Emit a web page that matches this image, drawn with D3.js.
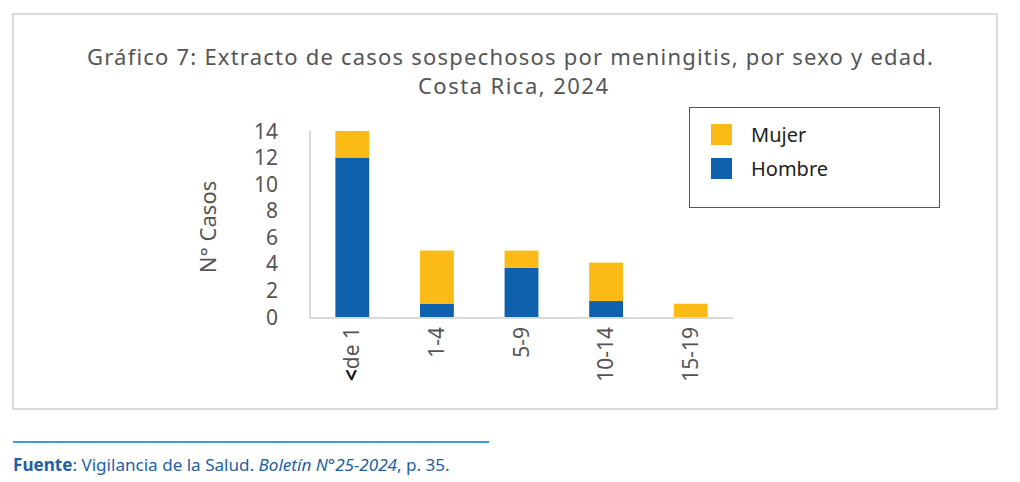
<!DOCTYPE html>
<html>
<head>
<meta charset="utf-8">
<script src="https://cdn.jsdelivr.net/npm/d3@7"></script>
<style>
  html, body { margin: 0; padding: 0; background: #fff; }
  svg { display: block; font-family: "Noto Sans", "Open Sans", sans-serif; }
</style>
</head>
<body>
<svg id="chart" width="1020" height="482"></svg>
<script>
// Data
const grupos = ['<de 1', '1-4', '5-9', '10-14', '15-19'];
const hombre = [12, 1, 3.7, 1.2, 0];
const mujer = [2, 4, 1.3, 2.9, 1];
const yTicks = [0, 2, 4, 6, 8, 10, 12, 14];
const series = ['Hombre', 'Mujer'];
const colores = { Hombre: '#1061ad', Mujer: '#fbba16' };

const svg = d3.select('#chart');

// helper: spread letters so a text spans a target width
function spreadTo(sel, target) {
    const txt = sel.text();
    const w = sel.node().getComputedTextLength();
    const ls = (target - w) / Math.max(1, txt.length - 1);
    sel.attr('letter-spacing', ls.toFixed(3));
}

// helper: shrink/grow font so text spans a target width
function fitWidth(sel, target) {
    const w = sel.node().getComputedTextLength();
    const fs = parseFloat(sel.attr('font-size'));
    sel.attr('font-size', (fs * target / w).toFixed(2));
}

// outer panel
svg.append('rect')
    .attr('x', 13).attr('y', 14)
    .attr('width', 984).attr('height', 395)
    .attr('fill', '#fff')
    .attr('stroke', '#dadada')
    .attr('stroke-width', 2);

// title
const t1 = svg.append('text')
    .attr('x', 87).attr('y', 65)
    .attr('font-size', 22)
    .attr('fill', '#555')
    .text('Gráfico 7: Extracto de casos sospechosos por meningitis, por sexo y edad.');
spreadTo(t1, 846);
const t2 = svg.append('text')
    .attr('x', 418).attr('y', 94)
    .attr('font-size', 22)
    .attr('fill', '#555')
    .text('Costa Rica, 2024');
spreadTo(t2, 190);

// scales
const x = d3.scaleBand()
    .domain(grupos)
    .range([310, 733])
    .paddingInner(0.6)
    .paddingOuter(0.3);

const y = d3.scaleLinear()
    .domain([0, 14])
    .range([317, 131]);

// stacked data
const rows = grupos.map((g, i) => ({ grupo: g, Hombre: hombre[i], Mujer: mujer[i] }));
const stacked = d3.stack().keys(series)(rows);

svg.append('g')
    .selectAll('g')
    .data(stacked)
    .join('g')
    .attr('fill', d => colores[d.key])
    .selectAll('rect')
    .data(d => d)
    .join('rect')
    .attr('x', d => x(d.data.grupo))
    .attr('width', x.bandwidth())
    .attr('y', d => y(d[1]))
    .attr('height', d => y(d[0]) - y(d[1]));

// axis lines
svg.append('line')
    .attr('x1', 310).attr('x2', 310)
    .attr('y1', 131).attr('y2', 318)
    .attr('stroke', '#d9d9d9').attr('stroke-width', 2);
svg.append('line')
    .attr('x1', 309).attr('x2', 733)
    .attr('y1', 318).attr('y2', 318)
    .attr('stroke', '#d9d9d9').attr('stroke-width', 2);

// y tick labels
svg.append('g')
    .selectAll('text')
    .data(yTicks)
    .join('text')
    .attr('x', 278)
    .attr('y', d => y(d))
    .attr('dy', '0.36em')
    .attr('text-anchor', 'end')
    .attr('font-size', 21)
    .attr('fill', '#555')
    .text(d => d);

// y axis title
svg.append('text')
    .attr('transform', 'translate(216,227) rotate(-90)')
    .attr('text-anchor', 'middle')
    .attr('font-size', 22)
    .attr('fill', '#555')
    .text('N° Casos');

// x labels (rotated)
const xl = svg.append('g')
    .selectAll('text')
    .data(grupos)
    .join('text')
    .attr('transform', d => `translate(${x(d) + x.bandwidth() / 2 + 7},327) rotate(-90)`)
    .attr('text-anchor', 'end')
    .attr('font-size', 21)
    .attr('fill', '#555');

xl.each(function(d) {
    const el = d3.select(this);
    if (d.startsWith('<')) {
        el.append('tspan').attr('fill', '#111').attr('font-weight', 'bold').text('<');
        el.append('tspan').text(d.slice(1));
    } else {
        el.text(d);
    }
});

// legend
const lg = svg.append('g');
lg.append('rect')
    .attr('x', 689.5).attr('y', 107.5)
    .attr('width', 250).attr('height', 100)
    .attr('fill', '#fff')
    .attr('stroke', '#555').attr('stroke-width', 1);

const legendItems = ['Mujer', 'Hombre'];
const li = lg.selectAll('g.item')
    .data(legendItems)
    .join('g')
    .attr('class', 'item')
    .attr('transform', (d, i) => `translate(711,${124 + i * 34})`);
li.append('rect')
    .attr('width', 21).attr('height', 21)
    .attr('fill', d => colores[d]);
li.append('text')
    .attr('x', 40).attr('y', 18)
    .attr('font-size', 20)
    .attr('fill', '#222')
    .text(d => d);

// footer
svg.append('line')
    .attr('x1', 13).attr('x2', 489)
    .attr('y1', 442).attr('y2', 442)
    .attr('stroke', '#3b9edb').attr('stroke-width', 2);

const ft = svg.append('text')
    .attr('x', 13).attr('y', 471)
    .attr('font-size', 15)
    .attr('fill', '#1d5fa8');
ft.append('tspan').attr('font-weight', 'bold').text('Fuente');
ft.append('tspan').text(': Vigilancia de la Salud. ');
ft.append('tspan').attr('font-style', 'italic').text('Boletín N°25-2024');
ft.append('tspan').text(', p. 35.');
fitWidth(ft, 437);
</script>
</body>
</html>
